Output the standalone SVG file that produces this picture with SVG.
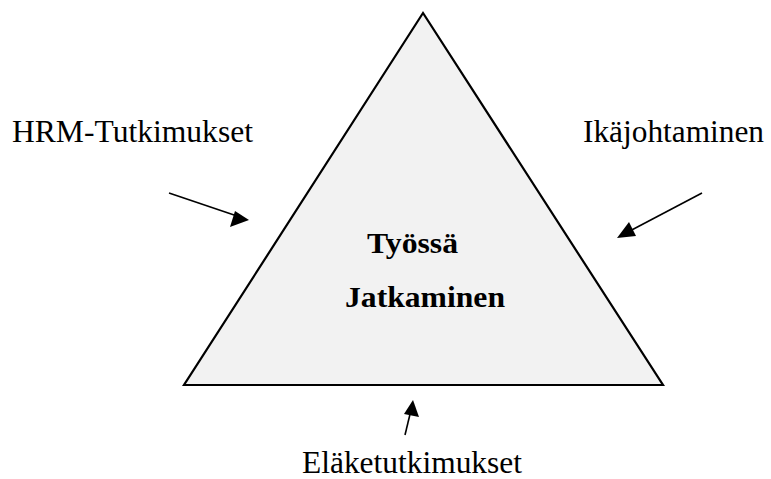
<svg xmlns="http://www.w3.org/2000/svg" width="771" height="479" viewBox="0 0 771 479">
<style>
.lbl{font-family:"Liberation Serif","Times New Roman",serif;font-size:31px;fill:#000}
.bold{font-family:"Liberation Serif","Times New Roman",serif;font-size:30px;font-weight:bold;fill:#000}
.conn{stroke:#000;stroke-width:1.6;fill:none}
.head{fill:#000}
</style>
<rect width="771" height="479" fill="#fff"/>
<g id="triangle">
<polygon points="423,13 184,385 663,385" fill="#f2f2f2" stroke="#000" stroke-width="2.2" stroke-linejoin="miter"/>
<text class="bold" x="367" y="253" textLength="91" lengthAdjust="spacingAndGlyphs">Työssä</text>
<text class="bold" x="345" y="307" textLength="160" lengthAdjust="spacingAndGlyphs">Jatkaminen</text>
</g>
<g id="hrm">
<text class="lbl" x="12" y="142" textLength="241" lengthAdjust="spacingAndGlyphs">HRM-Tutkimukset</text>
</g>
<g id="ika">
<text class="lbl" x="583" y="142" textLength="181" lengthAdjust="spacingAndGlyphs">Ikäjohtaminen</text>
</g>
<g id="elake">
<text class="lbl" x="302" y="473" textLength="220" lengthAdjust="spacingAndGlyphs">Eläketutkimukset</text>
</g>
<g id="connectors">
<line class="conn" x1="169" y1="193" x2="240" y2="217"/>
<path class="head" d="M249,220 L230,227 L235,211 Z"/>
<line class="conn" x1="702" y1="193" x2="626" y2="233"/>
<path class="head" d="M617,238 L629,222 L636,236 Z"/>
<line class="conn" x1="405" y1="435" x2="411" y2="410"/>
<path class="head" d="M413,400 L419,417 L404,414 Z"/>
</g>
</svg>
